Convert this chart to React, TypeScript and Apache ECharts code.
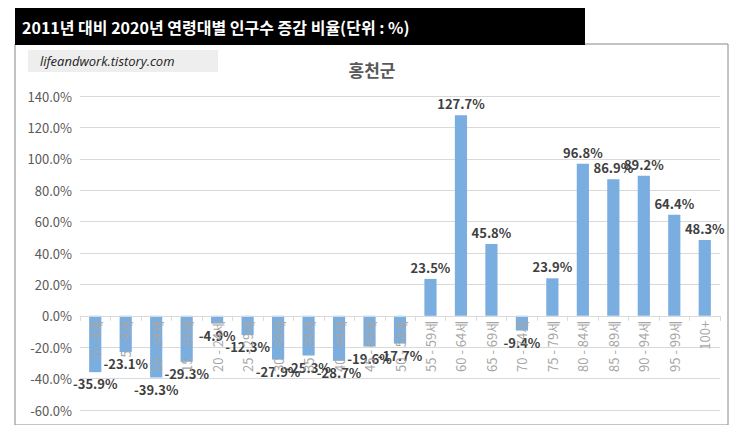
import React, { useEffect, useRef } from "react";
import * as echarts from "echarts";

const categories = [
  "0 - 4세", "5 - 9세", "10 - 14세", "15 - 19세", "20 - 24세", "25 - 29세", "30 - 34세",
  "35 - 39세", "40 - 44세", "45 - 49세", "50 - 54세", "55 - 59세", "60 - 64세", "65 - 69세",
  "70 - 74세", "75 - 79세", "80 - 84세", "85 - 89세", "90 - 94세", "95 - 99세", "100+",
];
const values = [
  -35.9, -23.1, -39.3, -29.3, -4.9, -12.3, -27.9, -25.3, -28.7, -19.6, -17.7,
  23.5, 127.7, 45.8, -9.4, 23.9, 96.8, 86.9, 89.2, 64.4, 48.3,
];

const App: React.FC = () => {
  const chartRef = useRef<HTMLDivElement>(null);

  useEffect(() => {
    if (!chartRef.current) return undefined;
    const chart = echarts.init(chartRef.current, undefined, { renderer: "svg" });
    const font = "'Malgun Gothic', 'Noto Sans CJK KR', sans-serif";
    chart.setOption({
      animation: false,
      textStyle: { fontFamily: font },
      title: {
        text: "홍천군",
        left: 359,
        top: 48,
        textAlign: "center",
        textStyle: { fontSize: 17, fontWeight: "bold", color: "#595959", fontFamily: font },
      },
      graphic: [
        { type: "rect", shape: { x: 7, y: 36, width: 713, height: 381 }, style: { fill: "none", stroke: "#888", lineWidth: 1 } },
        { type: "rect", shape: { x: 7, y: 0, width: 570, height: 37 }, style: { fill: "#000" } },
        { type: "text", x: 14, y: 19, style: { text: "2011년 대비 2020년 연령대별 인구수 증감 비율(단위 : %)", fill: "#fff", font: `bold 16px ${font}`, textVerticalAlign: "middle" } },
        { type: "rect", shape: { x: 20, y: 42, width: 190, height: 22 }, style: { fill: "#eeeeee" } },
        { type: "text", x: 32, y: 53, style: { text: "lifeandwork.tistory.com", fill: "#222", font: "italic 13px 'Open Sans', sans-serif", textVerticalAlign: "middle" } },
      ],
      grid: { left: 72, right: 11, top: 88, bottom: 15, containLabel: false },
      xAxis: {
        type: "category",
        data: categories,
        offset: -94.2,
        z: 5,
        axisLine: { lineStyle: { color: "#d9d9d9" } },
        axisTick: { show: true, lineStyle: { color: "#d9d9d9" } },
        axisLabel: { rotate: 90, color: "#a6a6a6", fontSize: 13, interval: 0, margin: 5 },
      },
      yAxis: {
        type: "value",
        min: -60,
        max: 140,
        interval: 20,
        axisLabel: { formatter: (v: number) => v.toFixed(1) + "%", color: "#595959", fontSize: 13 },
        splitLine: { lineStyle: { color: "#d9d9d9" } },
      },
      series: [
        {
          type: "bar",
          barWidth: "40%",
          itemStyle: { color: "#7aaee0" },
          data: values.map((v) => ({
            value: v,
            label: { position: v < 0 ? "bottom" : "top" },
          })),
          label: {
            show: true,
            formatter: (p: any) => p.value.toFixed(1) + "%",
            color: "#404040",
            fontWeight: "bold",
            fontSize: 13,
          },
        },
      ],
    });
    return () => chart.dispose();
  }, []);

  return <div ref={chartRef} style={{ width: 723, height: 417 }} />;
};

export default App;
